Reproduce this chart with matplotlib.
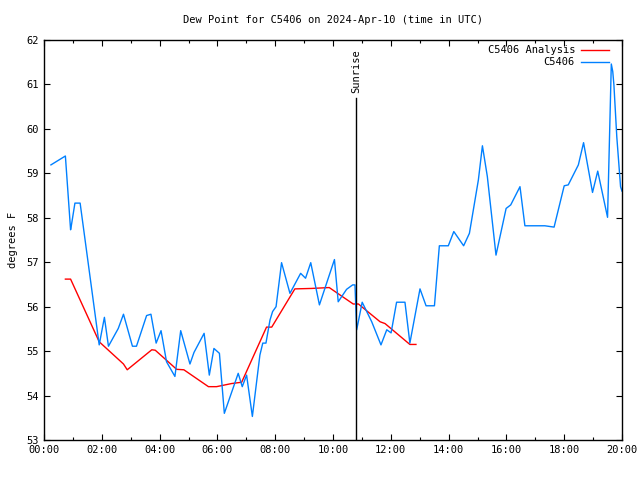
import matplotlib
matplotlib.use('Agg')
import matplotlib.pyplot as plt
from matplotlib.ticker import MultipleLocator

# station obs: hours since 00:00 UTC, dew point in F
obs_hours = [0.24, 0.74, 0.92, 0.95, 1.07, 1.25, 1.91, 2.09, 2.23, 2.57, 2.75, 3.06, 3.20,
             3.55, 3.70, 3.88, 4.05, 4.24, 4.53, 4.73, 5.05, 5.19, 5.54, 5.72, 5.88, 6.07,
             6.24, 6.72, 6.86, 7.01, 7.21, 7.47, 7.57, 7.68, 7.82, 7.91, 8.03, 8.22, 8.51,
             8.88, 9.05, 9.23, 9.53, 10.05, 10.18, 10.47, 10.68, 10.76, 10.82, 11.01, 11.34,
             11.66, 11.86, 12.01, 12.20, 12.49, 12.66, 13.01, 13.22, 13.51, 13.68, 13.99,
             14.18, 14.52, 14.72, 15.03, 15.17, 15.34, 15.64, 15.99, 16.15, 16.47, 16.64,
             17.33, 17.65, 18.00, 18.14, 18.49, 18.67, 18.98, 19.16, 19.50, 19.63, 19.68,
             19.72, 19.82, 19.95, 20.00]
obs_dewp = [59.19, 59.39, 57.73, 57.84, 58.33, 58.33, 55.14, 55.76, 55.11, 55.51, 55.83, 55.11, 55.11,
            55.80, 55.83, 55.18, 55.46, 54.76, 54.43, 55.46, 54.71, 54.97, 55.40, 54.46, 55.06, 54.95,
            53.60, 54.50, 54.20, 54.46, 53.53, 54.91, 55.18, 55.18, 55.70, 55.89, 56.00, 56.99, 56.30,
            56.75, 56.64, 56.99, 56.04, 57.06, 56.11, 56.39, 56.49, 56.49, 55.48, 56.10, 55.66,
            55.14, 55.48, 55.41, 56.10, 56.10, 55.18, 56.40, 56.02, 56.02, 57.37, 57.37,
            57.69, 57.37, 57.65, 58.85, 59.62, 58.93, 57.16, 58.21, 58.29, 58.70, 57.82,
            57.82, 57.79, 58.72, 58.74, 59.19, 59.69, 58.57, 59.05, 58.01, 61.46, 61.29,
            60.99, 59.82, 58.70, 58.60]

# analysis
ana_hours = [0.74, 0.92, 1.91, 2.75, 2.88, 3.73, 3.85, 4.59, 4.84, 5.69, 5.97, 6.49, 6.84,
             7.70, 7.88, 8.68, 9.26, 9.87, 10.07, 10.70, 10.88, 11.63, 11.80, 12.66, 12.87]
ana_dewp = [56.62, 56.62, 55.21, 54.71, 54.58, 55.03, 55.02, 54.59, 54.58, 54.20, 54.20, 54.27, 54.30,
            55.54, 55.54, 56.40, 56.41, 56.43, 56.34, 56.06, 56.06, 55.66, 55.62, 55.15, 55.15]

sunrise_hour = 10.80
sunrise_top = 60.7
xtick_labels = ['00:00', '02:00', '04:00', '06:00', '08:00', '10:00',
                '12:00', '14:00', '16:00', '18:00', '20:00']

plt.rcParams['font.family'] = 'DejaVu Sans Mono'
plt.rcParams['font.size'] = 7.5

fig = plt.figure(figsize=(6.4, 4.8), dpi=100)
ax = fig.add_axes([44/640, 40/480, 578/640, 400/480])

ax.plot(ana_hours, ana_dewp, color='#ff0000', lw=1)
ax.plot(obs_hours, obs_dewp, color='#0080ff', lw=1)
ax.plot([sunrise_hour, sunrise_hour], [53, sunrise_top], color='black', lw=1)
ax.text(sunrise_hour, sunrise_top + 0.1, 'Sunrise', rotation=90, ha='center', va='bottom')

ax.set_xlim(0, 20)
ax.set_ylim(53, 62)
ax.set_xticks(range(0, 21, 2))
ax.set_xticklabels(xtick_labels)
ax.xaxis.set_minor_locator(MultipleLocator(1))
ax.yaxis.set_major_locator(MultipleLocator(1))
ax.tick_params(which='both', direction='in', top=True, right=True, length=4, width=0.8)
ax.tick_params(which='minor', length=2)
for s in ax.spines.values():
    s.set_linewidth(1)

ax.set_ylabel('degrees F', labelpad=6)
ax.set_title('Dew Point for C5406 on 2024-Apr-10 (time in UTC)', fontsize=7.5, pad=12)

# gnuplot style key, text right aligned and sample on the right
for i, (lab, col) in enumerate([('C5406 Analysis', '#ff0000'), ('C5406', '#0080ff')]):
    yk = 1 - (10 + 12.5 * i) / 400
    ax.text(531/578, yk, lab, transform=ax.transAxes, ha='right', va='center')
    ax.plot([537/578, 565/578], [yk, yk], transform=ax.transAxes, color=col, lw=1)

fig.savefig('out.png', dpi=100)
